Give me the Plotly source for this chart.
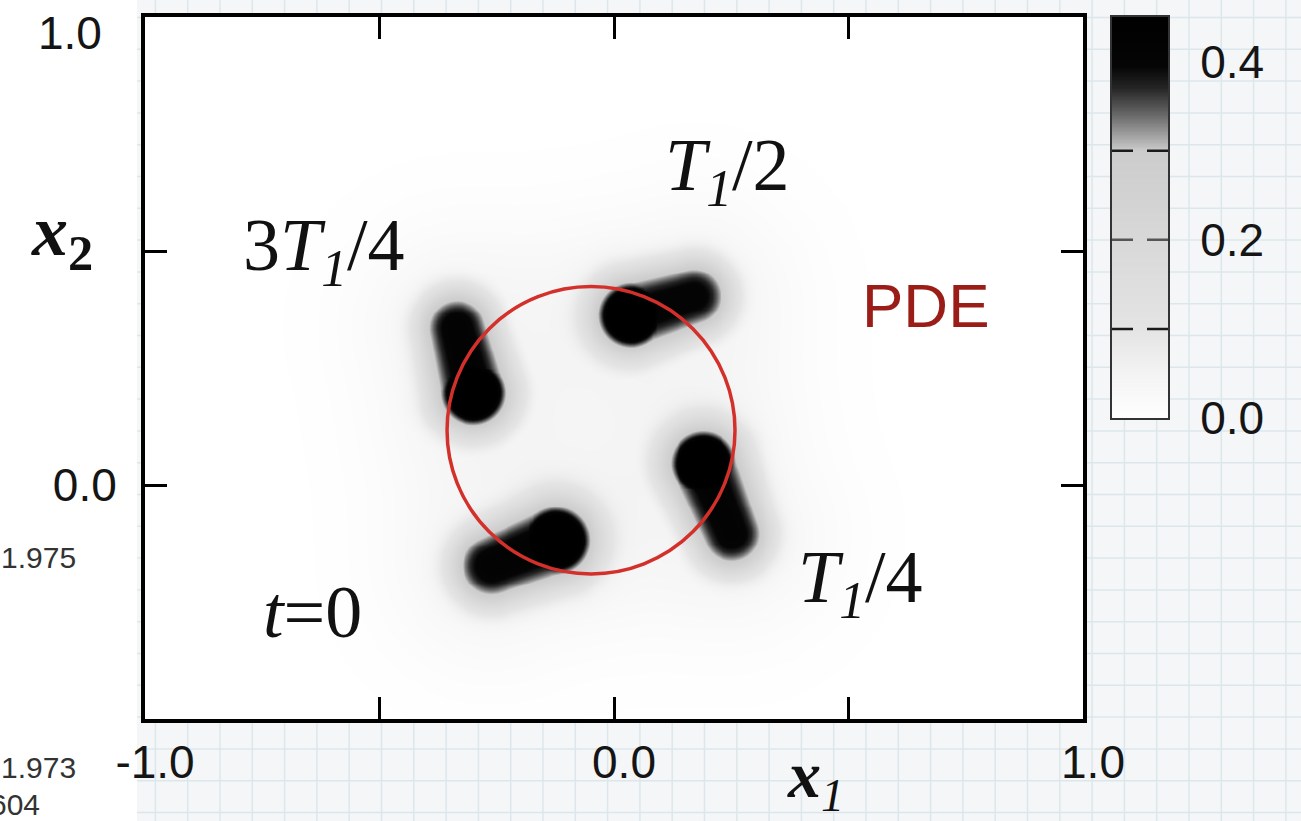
import numpy as np
import plotly.graph_objects as go

W, H = 1301, 821

# ---------------- data ----------------
x_range = [-1.0, 1.0]
y_range = [-0.5, 1.0]
x_tick_vals = [-1.0, -0.5, 0.0, 0.5, 1.0]
x_tick_text = ["-1.0", "", "0.0", "", "1.0"]
y_tick_vals = [0.0, 0.5, 1.0]
y_tick_text = ["0.0", "", ""]

# four density blobs (t=0, T1/4, T1/2, 3T1/4): dense "head" and elongated "tail"
blob_names = ["t=0", "T1/4", "T1/2", "3T1/4"]
head_x = [-0.125, 0.190, 0.036, -0.301]
head_y = [-0.118, 0.046, 0.364, 0.198]
tail_x = [-0.262, 0.250, 0.170, -0.335]
tail_y = [-0.172, -0.103, 0.404, 0.336]
head_peak = [0.68, 0.68, 0.68, 0.68]
head_sigma = [0.052, 0.050, 0.050, 0.050]
tail_peak = [0.372, 0.370, 0.365, 0.374]
tail_width = [0.098, 0.095, 0.094, 0.094]
tail_taper = [0.12, 0.12, 0.12, 0.12]
glow_peak = [0.045, 0.045, 0.045, 0.045]
glow_sigma = [0.15, 0.15, 0.15, 0.15]

# red reference circle
circle_cx, circle_cy, circle_r = -0.049, 0.117, 0.307

# colour scale
z_min, z_max = 0.0, 0.45
cbar_tick_vals = [0.0, 0.2, 0.4]
cbar_tick_text = ["0.0", "0.2", "0.4"]
contour_levels = [0.1, 0.2, 0.3]
scale_levels = [0.0, 0.05, 0.10, 0.20, 0.30, 0.31, 0.34, 0.37, 0.395, 0.45]
scale_colors = ["#ffffff", "#f3f3f3", "#e4e4e4", "#d8d8d8", "#cccccc",
                "#b3b3b3", "#6a6a6a", "#262626", "#050505", "#000000"]

# ---------------- build density field ----------------
gx = np.linspace(x_range[0], x_range[1], 241)
gy = np.linspace(y_range[0], y_range[1], 181)
X, Y = np.meshgrid(gx, gy)
Z = np.zeros_like(X)
for i in range(len(blob_names)):
    hx, hy, tx, ty = head_x[i], head_y[i], tail_x[i], tail_y[i]
    vx, vy = tx - hx, ty - hy
    L2 = vx * vx + vy * vy
    t = np.clip(((X - hx) * vx + (Y - hy) * vy) / L2, 0, 1)
    d = np.sqrt((X - hx - t * vx) ** 2 + (Y - hy - t * vy) ** 2)
    dh2 = (X - hx) ** 2 + (Y - hy) ** 2
    w = tail_width[i] * (1 - tail_taper[i] * t)
    head = head_peak[i] * np.exp(-dh2 / (2 * head_sigma[i] ** 2))
    tail = tail_peak[i] * np.exp(-(d / w) ** 3)
    glow = glow_peak[i] * np.exp(-d ** 2 / (2 * glow_sigma[i] ** 2))
    Z = np.maximum(Z, np.maximum(head, tail)) + glow

colorscale = [[(v - z_min) / (z_max - z_min), c] for v, c in zip(scale_levels, scale_colors)]

fig = go.Figure()
fig.add_trace(go.Heatmap(x=gx, y=gy, z=Z, zmin=z_min, zmax=z_max, colorscale=colorscale,
                         zsmooth="best", showscale=False, hoverinfo="skip"))

# colour bar drawn as a strip heatmap on its own axes
cb_vals = np.linspace(z_min, z_max, 300)
fig.add_trace(go.Heatmap(x=[0, 1], y=cb_vals, z=[[v, v] for v in cb_vals], zmin=z_min, zmax=z_max,
                         colorscale=colorscale, zsmooth="best", showscale=False,
                         xaxis="x2", yaxis="y2", hoverinfo="skip"))

def px(xp):
    return xp / W

def py(yp):
    return 1 - yp / H

tick_font = dict(family="Liberation Sans, Arial, sans-serif", size=46, color="#151515")

fig.update_layout(
    width=W, height=H,
    margin=dict(l=0, r=0, t=0, b=0, autoexpand=False),
    paper_bgcolor="#f4f6f7", plot_bgcolor="white", showlegend=False,
    xaxis=dict(domain=[px(145), px(1083)], range=x_range, tickvals=x_tick_vals, ticktext=x_tick_text,
               ticks="inside", ticklen=22, tickwidth=3, tickcolor="black",
               showline=True, linewidth=4, linecolor="black", mirror="ticks",
               showgrid=False, zeroline=False, tickfont=tick_font,
               ticklabelshift=10, ticklabelstandoff=0),
    yaxis=dict(domain=[py(719), py(17)], range=y_range, tickvals=y_tick_vals, ticktext=y_tick_text,
               ticks="inside", ticklen=22, tickwidth=3, tickcolor="black",
               showline=True, linewidth=4, linecolor="black", mirror="ticks",
               showgrid=False, zeroline=False, tickfont=tick_font, ticklabelstandoff=15),
    xaxis2=dict(domain=[px(1112), px(1168)], range=[0, 1], anchor="y2", showticklabels=False,
                ticks="", showgrid=False, zeroline=False, showline=True, linewidth=2,
                linecolor="#333", mirror=True),
    yaxis2=dict(domain=[py(418), py(17)], range=[z_min, z_max], anchor="x2", side="right",
                tickvals=cbar_tick_vals, ticktext=cbar_tick_text, ticks="", showgrid=False,
                zeroline=False, showline=True, linewidth=2, linecolor="#333", mirror=True,
                tickfont=tick_font, ticklabelstandoff=21),
)

shapes = []
# graph-paper background
gxp = 1156.7
while gxp - 32.3 > 137:
    gxp -= 32.3
while gxp < W:
    shapes.append(dict(type="line", xref="paper", yref="paper", x0=px(gxp), x1=px(gxp), y0=0, y1=1,
                       line=dict(color="#dce7eb", width=1.5), layer="below"))
    gxp += 32.3
gyp = 621.7
while gyp - 31.8 > 0:
    gyp -= 31.8
while gyp < H:
    shapes.append(dict(type="line", xref="paper", yref="paper", x0=px(137), x1=1, y0=py(gyp), y1=py(gyp),
                       line=dict(color="#dce7eb", width=1.5), layer="below"))
    gyp += 31.8
shapes.append(dict(type="rect", xref="paper", yref="paper", x0=0, x1=px(137), y0=0, y1=1,
                   fillcolor="white", line=dict(width=0), layer="below"))
# red circle
shapes.append(dict(type="circle", xref="x", yref="y",
                   x0=circle_cx - circle_r, x1=circle_cx + circle_r,
                   y0=circle_cy - circle_r, y1=circle_cy + circle_r,
                   line=dict(color="#d3302b", width=3.5), layer="above"))
# contour level marks on the colour bar
for lev in contour_levels:
    shapes.append(dict(type="line", xref="x2 domain", yref="y2", x0=0, x1=1, y0=lev, y1=lev,
                       line=dict(color="#555" if abs(lev - 0.2) < 1e-9 else "#1a1a1a", width=2.5,
                                 dash="21px,14px"), layer="above"))
fig.update_layout(shapes=shapes)

serif = "Liberation Serif, Times New Roman, serif"
sans = "Liberation Sans, Arial, sans-serif"
ann = []
def add_text(text, xp, yp, size, family=serif, color="#111", xanchor="center"):
    ann.append(dict(text=text, x=px(xp), y=py(yp), xref="paper", yref="paper", showarrow=False,
                    xanchor=xanchor, yanchor="middle", font=dict(family=family, size=size, color=color)))

add_text("3<i>T</i><sub><i>1</i></sub>/4", 324, 250, 74)
add_text("<i>T</i><sub><i>1</i></sub>/2", 728, 170, 74)
add_text("<i>T</i><sub><i>1</i></sub>/4", 860, 582, 74)
add_text("<i>t</i>=0", 312, 612, 74)
add_text("PDE", 926, 306, 62, family=sans, color="#9a1d18")
add_text("<b><i>x</i></b><sub><i>1</i></sub>", 815, 779, 66)
add_text("<b><i>x</i><sub>2</sub></b>", 62, 236, 72)
add_text("1.0", 104, 33, 46, family=sans, color="#151515", xanchor="right")
add_text("1.975", 78, 557, 30, family=sans, color="#333", xanchor="right")
add_text("1.973", 78, 767, 30, family=sans, color="#333", xanchor="right")
add_text("604", 42, 804, 30, family=sans, color="#333", xanchor="right")
fig.update_layout(annotations=ann)

fig.write_html("out.html", post_script="document.body.style.margin='0px';",
               config={"displayModeBar": False})
